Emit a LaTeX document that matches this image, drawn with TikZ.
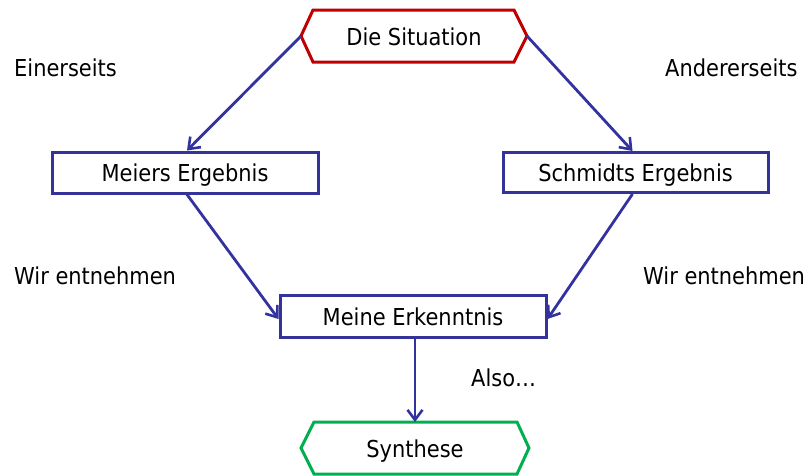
\documentclass[tikz,border=0pt]{standalone}
\usepackage{fontspec}
\setmainfont{DejaVu Sans Condensed}
\usetikzlibrary{arrows.meta}
\definecolor{boxblue}{RGB}{51,51,153}
\definecolor{hexred}{RGB}{192,0,0}
\definecolor{hexgreen}{RGB}{0,176,80}
\definecolor{arrblue}{RGB}{51,51,160}
\begin{document}
\begin{tikzpicture}[x=1pt,y=-1pt,font=\fontsize{23.3}{27}\selectfont,
  box/.style={draw=boxblue,line width=3pt,fill=white,inner sep=0pt,text height=18pt,text depth=0pt},
  hextext/.style={inner sep=0pt,text height=18pt,text depth=0pt},
  conn/.style={draw=arrblue,line width=2.8pt,-{Straight Barb[length=10pt,width=15pt,line width=2.6pt]}},
  lbl/.style={anchor=west,inner sep=0pt},
  hexline/.style={line width=3pt,fill=white,line join=miter}]
\useasboundingbox (0,0) rectangle (810,475);
% top hexagon
\coordinate (sitL) at (301,36);
\coordinate (sitR) at (527,36);
\draw[hexline,draw=hexred] (sitL) -- (313,10) -- (514,10) -- (sitR) -- (514,62) -- (313,62) -- cycle;
\node[hextext] (sit) at (414,36) {Die Situation};
% bottom hexagon
\coordinate (synT) at (415,422);
\draw[hexline,draw=hexgreen] (301,448) -- (314,422) -- (517,422) -- (529,448) -- (517,474) -- (314,474) -- cycle;
\node[hextext] (syn) at (415,448) {Synthese};
% boxes
\node[box,minimum width=266pt,minimum height=41pt] (meier) at (185,172.5) {Meiers Ergebnis};
\node[box,minimum width=265pt,minimum height=40pt] (schm) at (635.5,172.5) {Schmidts Ergebnis};
\node[box,minimum width=266pt,minimum height=42pt] (meine) at (413,316) {Meine Erkenntnis};
% connectors
\draw[conn] (sitL) -- ([xshift=2pt]meier.north);
\draw[conn] (sitR) -- ([xshift=-3pt]schm.north);
\draw[conn] ([xshift=2pt]meier.south) -- ([yshift=-3pt]meine.west);
\draw[conn] ([xshift=-3pt]schm.south) -- ([yshift=-3pt]meine.east);
\draw[conn] ([xshift=2pt]meine.south) -- (synT);
% labels
\node[lbl] (l1) at (14,68) {Einerseits};
\node[lbl] (l2) at (665,68) {Andererseits};
\node[lbl] (l3) at (14,276) {Wir entnehmen};
\node[lbl] (l4) at (643,276) {Wir entnehmen};
\node[lbl] (l5) at (471,378) {Also…};
\end{tikzpicture}
\end{document}
